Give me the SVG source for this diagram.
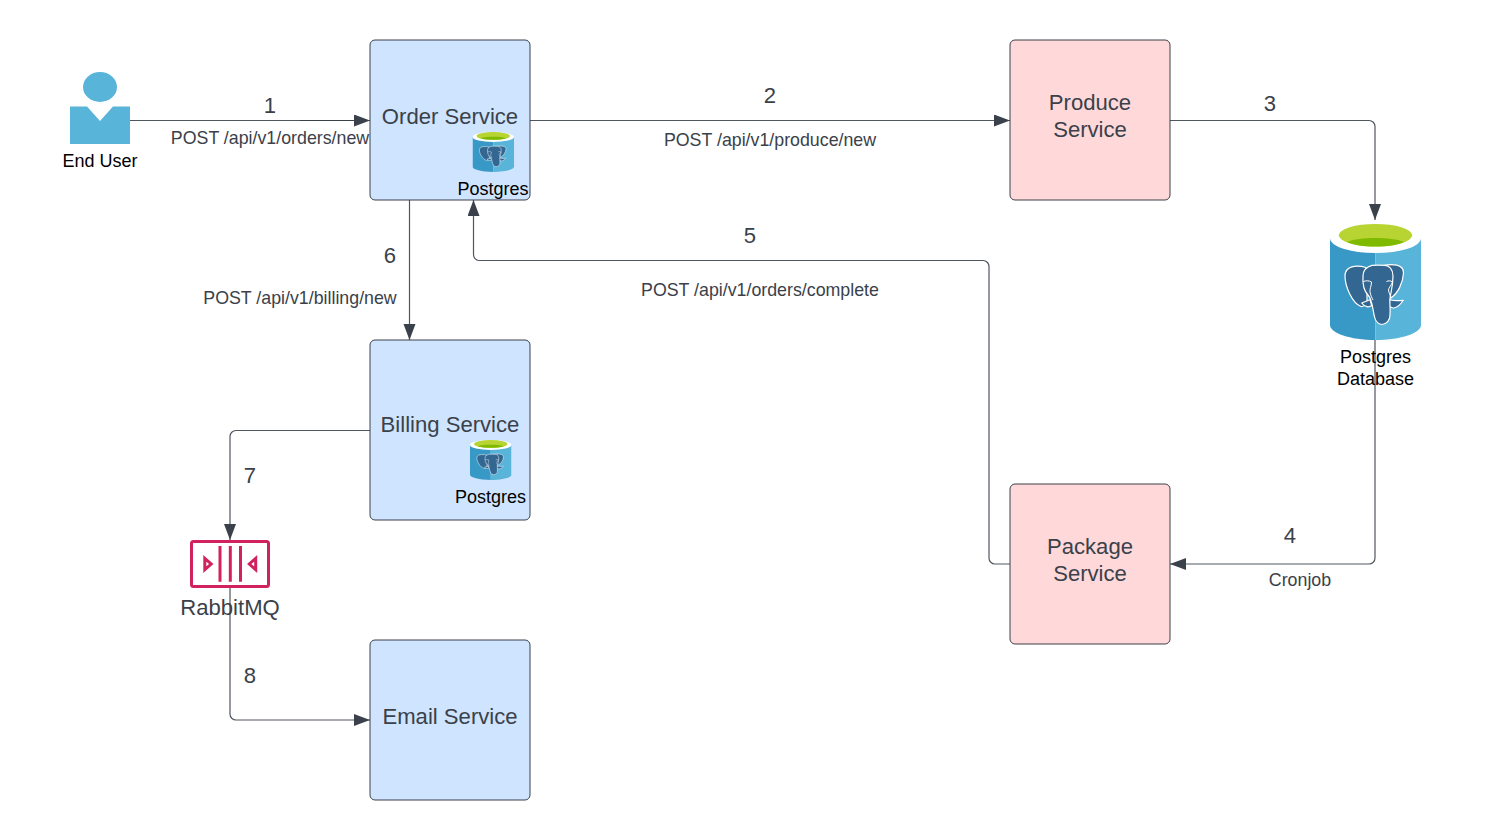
<svg xmlns="http://www.w3.org/2000/svg" width="1491" height="840" viewBox="0 0 1491 840">
<style>
text{font-family:"Liberation Sans",Arial,sans-serif;text-anchor:middle}
.t{font-size:22.1px;fill:#3a414a}
.l{font-size:17.8px;fill:#3a414a}
.k{font-size:18px;fill:#000}
.box{stroke:#3a414a;stroke-width:1}
.blue{fill:#cfe4ff}
.pink{fill:#ffd9d9}
.c{fill:none;stroke:#50565e;stroke-width:1.2;marker-end:url(#a)}
</style>
<defs>
<marker id="a" markerUnits="userSpaceOnUse" markerWidth="17" markerHeight="13" refX="16" refY="6" orient="auto"><path d="M0 0L16 6L0 12Z" fill="#3a414a"/></marker>
<symbol id="pg" viewBox="0 0 91 116" preserveAspectRatio="none">
<path d="M0 14.500V101C0 109 20 116 45.500 116V14.500Z" fill="#3999c6"/>
<path d="M91 14.500V101C91 109 71 116 45.500 116V14.500Z" fill="#59b4d9"/>
<ellipse cx="45.500" cy="14.500" rx="45.500" ry="14.500" fill="#fff"/>
<ellipse cx="45.500" cy="11.300" rx="36.700" ry="11.300" fill="#b8d432"/>
<path d="M17 18C24 15 34 14 45.500 14S67 15 74 18C68 21 57 22.600 45.500 22.600S23 21 17 18Z" fill="#7fba00"/>
<g fill="#336791" stroke="#fff" stroke-width="1.200" stroke-linejoin="round">
<path d="M36 43.500C26 40.500 15 42 15 52C15 62 22 79 31 82.500C35 83 38 78 37 72Z"/>
<path d="M52 42C62 39 74 40.500 73.500 49C73 59 68 69 61 74L54 70Z"/>
<path d="M31.700 79L40 75.700L41.700 81.500C39 83.500 35 83.500 31.700 79Z"/>
<path d="M60 75.700C64 77 69 76.800 73.300 76.300C71 80 68 83 64 84C61 84 59 82 58 80Z"/>
<path d="M42 41.300C36 43 33 47 33 52C32.500 60 34 67 38 71C42 75 42.500 84 44.300 92C45.500 99 50 100.500 52 100.500C57 100 60 96 60 91C60.500 85 59.500 78 60 74C61 68 63 62 63 52C63 45 59 41.500 55 41.300C50 41 46 41 42 41.300Z"/>
</g>
<g fill="none" stroke="#fff" stroke-width="1">
<path d="M33.500 57.500C36 56.500 39 56.500 41.500 58C41.500 62 39.500 65 40 68C40.500 71 42 74 43 76"/>
<path d="M56.500 57.500C58.500 56.500 60.500 56.500 62.500 58C61.500 61 58.500 64 58.500 66C59 69 60 71 61 73"/>
</g>
</symbol>
</defs>
<g id="connectors">
<path class="c" d="M130 120.500H370"/>
<path d="M300 120.500H356" fill="none" stroke="#3a414a" stroke-width="1.200"/>
<path class="c" d="M530 120.500H1010"/>
<path class="c" d="M1170 120.500H1369A6 6 0 0 1 1375 126.500V220"/>
<path class="c" d="M1375 340V558A6 6 0 0 1 1369 564H1170"/>
<path class="c" d="M1010 564H995A6 6 0 0 1 989 558V266.500A6 6 0 0 0 983 260.500H479A6 6 0 0 1 473.500 254.500V200"/>
<path class="c" d="M409.500 200V340"/>
<path class="c" d="M370 430.500H236A6 6 0 0 0 230 436.500V540"/>
<path class="c" d="M230 588V714A6 6 0 0 0 236 720H370"/>
</g>
<g id="end-user">
<ellipse cx="100" cy="87" rx="17" ry="15" fill="#59b4d9"/>
<path d="M70 106.500H87L100 121L113 106.500H130V144H70Z" fill="#59b4d9"/>
<text class="k" x="100" y="167">End User</text>
</g>
<g id="order-service">
<rect class="box blue" x="370" y="40" width="160" height="160" rx="5"/>
<text class="t" x="450" y="124">Order Service</text>
<use href="#pg" x="472.500" y="132" width="41.500" height="40"/>
<text class="k" x="493" y="195">Postgres</text>
</g>
<g id="produce-service">
<rect class="box pink" x="1010" y="40" width="160" height="160" rx="5"/>
<text class="t" x="1090" y="110">Produce</text>
<text class="t" x="1090" y="137">Service</text>
</g>
<g id="postgres-database">
<use href="#pg" x="1330" y="224" width="91" height="116"/>
<text class="k" x="1375.500" y="363">Postgres</text>
<text class="k" x="1375.500" y="385">Database</text>
</g>
<g id="billing-service">
<rect class="box blue" x="370" y="340" width="160" height="180" rx="5"/>
<text class="t" x="450" y="431.500">Billing Service</text>
<use href="#pg" x="470" y="440" width="41.500" height="40"/>
<text class="k" x="490.500" y="503">Postgres</text>
</g>
<g id="package-service">
<rect class="box pink" x="1010" y="484" width="160" height="160" rx="5"/>
<text class="t" x="1090" y="554">Package</text>
<text class="t" x="1090" y="581">Service</text>
</g>
<g id="rabbitmq">
<rect x="191.500" y="541.500" width="77" height="45" rx="2" fill="#fff" stroke="#d1225f" stroke-width="3"/>
<g fill="none" stroke="#d1225f" stroke-width="3">
<path d="M220 546V581.700M230.300 546V581.700M240.500 546V581.700"/>
<path d="M204.800 558.300L211.200 564L204.800 569.700Z"/>
<path d="M255.700 558.300L249.300 564L255.700 569.700Z"/>
</g>
<text class="t" x="230" y="615">RabbitMQ</text>
</g>
<g id="email-service">
<rect class="box blue" x="370" y="640" width="160" height="160" rx="5"/>
<text class="t" x="450" y="724">Email Service</text>
</g>
<g id="labels">
<text class="t" x="270" y="113">1</text>
<text class="l" x="270" y="144">POST /api/v1/orders/new</text>
<text class="t" x="770" y="103">2</text>
<text class="l" x="770" y="146">POST /api/v1/produce/new</text>
<text class="t" x="1270" y="111">3</text>
<text class="t" x="1290" y="543">4</text>
<text class="l" x="1300" y="586">Cronjob</text>
<text class="t" x="750" y="243">5</text>
<text class="l" x="760" y="296">POST /api/v1/orders/complete</text>
<text class="t" x="390" y="263">6</text>
<text class="l" x="300" y="304">POST /api/v1/billing/new</text>
<text class="t" x="250" y="483">7</text>
<text class="t" x="250" y="683">8</text>
</g>
</svg>
